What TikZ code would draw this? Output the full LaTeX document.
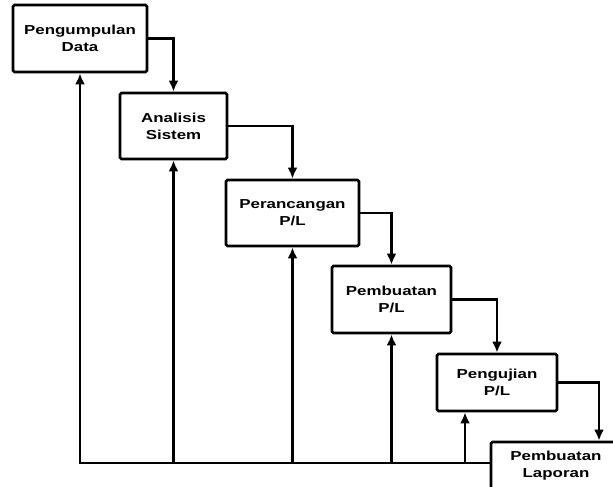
\documentclass[tikz,border=0pt]{standalone}
\usepackage{fontspec}
\newfontfamily\boxfont[UprightFont={* Bold},FakeStretch=1.3]{Liberation Sans}
\usepackage{tikz}
\usetikzlibrary{arrows.meta}

\begin{document}
\begin{tikzpicture}[x=1pt,y=-1pt,
    box/.style={draw,line width=2.8pt,rounded corners=1.5pt,align=center,
      inner sep=0pt,font=\fontsize{13}{17}\boxfont},
    flow/.style={line width=2.4pt,-{Latex[length=11pt,width=10pt]}}]
        \useasboundingbox (0,0) rectangle (613,487);
        \clip (0,0) rectangle (613,487);
        % stages, placed at their centres (pixel grid of the original)
        \node[box,minimum width=134pt,minimum height=67pt] (b1) at (80,38.5) {Pengumpulan\\Data};
        \node[box,minimum width=107pt,minimum height=66pt] (b2) at (173.5,126) {Analisis\\Sistem};
        \node[box,minimum width=133pt,minimum height=66pt] (b3) at (292.5,213) {Perancangan\\P/L};
        \node[box,minimum width=119pt,minimum height=67pt] (b4) at (391.5,299.5) {Pembuatan\\P/L};
        \node[box,minimum width=120pt,minimum height=57pt] (b5) at (497,382.5) {Pengujian\\P/L};
        \node[box,minimum width=130pt,minimum height=48pt] (b6) at (556,466) {Pembuatan\\Laporan};
        % waterfall steps down
        \draw[flow] (b1.east) -| (b2.north);
        \draw[flow] (b2.east) -| (b3.north);
        \draw[flow] (b3.east) -| (b4.north);
        \draw[flow] (b4.east) -| (b5.north);
        \draw[flow] (b5.east) -| ([xshift=43pt]b6.north);
        % feedback line along the bottom
        \coordinate (bot) at (80,463);
        \draw[line width=2.4pt] (b6.west |- bot) -- ([xshift=-1.2pt]bot);
        \draw[flow] (bot) -- (b1.south);
        \foreach \n in {b2,b3,b4}
          \draw[flow] (\n.south |- bot) -- (\n.south);
        \draw[flow] ([xshift=-32pt]b5.south |- bot) -- ([xshift=-32pt]b5.south);
      \end{tikzpicture}
\end{document}
